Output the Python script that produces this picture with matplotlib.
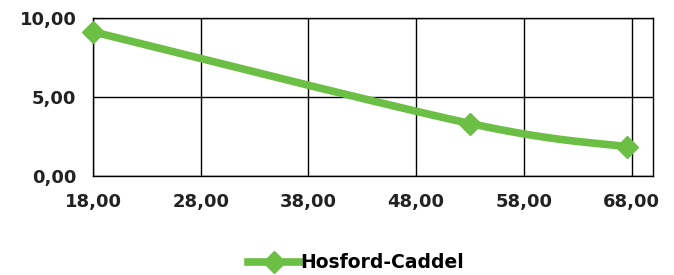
import numpy as np
import matplotlib
matplotlib.use("Agg")
import matplotlib.pyplot as plt
from matplotlib.lines import Line2D

x_vals = [18.0, 53.0, 67.6]
y_vals = [9.12, 3.32, 1.85]
series_name = "Hosford-Caddel"
x_ticks = [18, 28, 38, 48, 58, 68]
y_ticks = [0, 5, 10]

def fmt(v):
    return f"{v:.2f}".replace(".", ",")

def smooth(xs, ys, n=80, k=1/6):
    # Bezier smoothing (Excel-like) with control points from neighbours
    P = np.column_stack([xs, ys]).astype(float)
    out = []
    for i in range(len(P) - 1):
        p0 = P[i - 1] if i > 0 else P[i]
        p1, p2 = P[i], P[i + 1]
        p3 = P[i + 2] if i + 2 < len(P) else P[i + 1]
        c1 = p1 + (p2 - p0) * k
        c2 = p2 - (p3 - p1) * k
        t = np.linspace(0, 1, n)[:, None]
        pts = ((1 - t) ** 3) * p1 + 3 * ((1 - t) ** 2) * t * c1 + 3 * (1 - t) * t ** 2 * c2 + t ** 3 * p2
        out.append(pts)
    out = np.vstack(out)
    return out[:, 0], out[:, 1]

green = "#6CBF45"
fig = plt.figure(figsize=(6.74, 2.75), dpi=100)
ax = fig.add_axes([0.138, 0.36, 0.831, 0.575])

sx, sy = smooth(x_vals, y_vals)
ax.plot(sx, sy, color=green, lw=5.5, solid_capstyle="round", zorder=3)
ax.plot(x_vals, y_vals, linestyle="none", marker="D", markersize=11, color=green, zorder=4, clip_on=False)

ax.set_xlim(18, 70)
ax.set_ylim(0, 10)
ax.set_xticks(x_ticks)
ax.set_yticks(y_ticks)
ax.set_xticklabels([fmt(v) for v in x_ticks])
ax.set_yticklabels([fmt(v) for v in y_ticks])
ax.grid(True, color="black", lw=1.0)
ax.set_axisbelow(True)
for s in ax.spines.values():
    s.set_color("black")
    s.set_linewidth(1.0)
ax.tick_params(length=0, labelsize=13, pad=12, colors="#222222")
for lab in ax.get_xticklabels() + ax.get_yticklabels():
    lab.set_fontweight("bold")

handle = Line2D([], [], color=green, lw=5.5, marker="D", markersize=11)
fig.legend([handle], [series_name], loc="center", bbox_to_anchor=(0.528, 0.045),
           frameon=False, prop={"size": 13.5, "weight": "bold"}, handlelength=2.7,
           handletextpad=0.05)
fig.savefig("out.png", dpi=100)
